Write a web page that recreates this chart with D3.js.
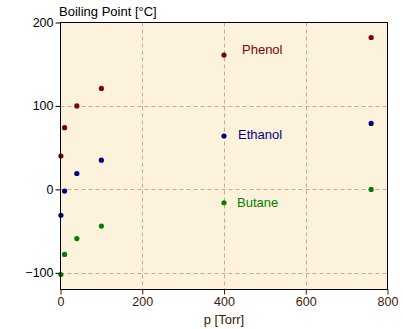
<!DOCTYPE html>
<html><head><meta charset="utf-8">
<script src="https://cdn.jsdelivr.net/npm/d3@7"></script>
<style>body{margin:0;background:#fff}svg{display:block}text{font-family:"Liberation Sans",Arial,sans-serif;font-size:13px}</style>
</head><body><svg id="c" width="403" height="329"></svg>
<script>
const pressures = [1, 10, 40, 100, 400, 760];
const phenol  = [40, 74, 100, 121, 161, 182];
const ethanol = [-31, -2, 19, 35, 64, 79];
const butane  = [-102, -78, -59, -44, -16, 0];
const seriesNames = ["Phenol", "Ethanol", "Butane"];
const seriesColors = ["#800000", "#000080", "#008000"];
const xTicks = [0, 200, 400, 600, 800];
const yTicks = [-100, 0, 100, 200];

const svg = d3.select("#c");
const L = 60.5, R = 387.5, T = 22.5, B = 289.5;
const x = d3.scaleLinear().domain([0, 800]).range([L, R]);
const y = d3.scaleLinear().domain([-120, 200]).range([B, T]);

svg.append("rect").attr("x", L).attr("y", T).attr("width", R - L).attr("height", B - T).attr("fill", "#fdf2dc");

const grid = svg.append("g").attr("stroke", "#d9a384").attr("stroke-dasharray", "4,3").attr("stroke-width", 1);
xTicks.filter(v => v > 0 && v < 800).forEach(v => grid.append("line").attr("x1", Math.round(x(v)) + 0.5).attr("x2", Math.round(x(v)) + 0.5).attr("y1", T).attr("y2", B));
yTicks.filter(v => v > -120 && v < 200).forEach(v => grid.append("line").attr("y1", Math.round(y(v)) + 0.5).attr("y2", Math.round(y(v)) + 0.5).attr("x1", L).attr("x2", R));

const data = [phenol, ethanol, butane];
data.forEach((vals, i) => {
  svg.append("g").selectAll("circle").data(vals).join("circle")
    .attr("cx", (d, j) => x(pressures[j])).attr("cy", d => y(d)).attr("r", 2.6)
    .attr("fill", seriesColors[i]);
});

// series labels near 400 Torr point
const labelDx = [18, 14, 13];
const labelDy = [-6, -2, 0];
data.forEach((vals, i) => {
  svg.append("text").attr("x", x(pressures[4]) + labelDx[i]).attr("y", y(vals[4]) + labelDy[i])
    .attr("dy", "0.35em").attr("fill", seriesColors[i]).text(seriesNames[i]);
});

// frame
svg.append("rect").attr("x", L).attr("y", T).attr("width", R - L).attr("height", B - T).attr("fill", "none").attr("stroke", "#000");

const xa = svg.append("g").attr("transform", `translate(0,${B})`)
  .call(d3.axisBottom(x).tickValues(xTicks).tickSize(5).tickPadding(3).tickFormat(d3.format("d")));
xa.select(".domain").remove();
xa.selectAll("line").attr("stroke", "#401800");
xa.selectAll("text").attr("fill", "#401800").style("font-size", "12.5px").style("font-family", '"Liberation Sans",Arial,sans-serif');

const ya = svg.append("g").attr("transform", `translate(${L},0)`)
  .call(d3.axisLeft(y).tickValues(yTicks).tickSize(5).tickPadding(2).tickFormat(d3.format("d")));
ya.select(".domain").remove();
ya.selectAll("line").attr("stroke", "#000");
ya.selectAll("text").attr("fill", "#000").style("font-size", "12.5px").style("font-family", '"Liberation Sans",Arial,sans-serif');

svg.append("text").attr("x", 59).attr("y", 16).attr("fill", "#000").text("Boiling Point [°C]");
svg.append("text").attr("x", (L + R) / 2).attr("y", 324).attr("text-anchor", "middle").attr("fill", "#401800").text("p [Torr]");
</script></body></html>
